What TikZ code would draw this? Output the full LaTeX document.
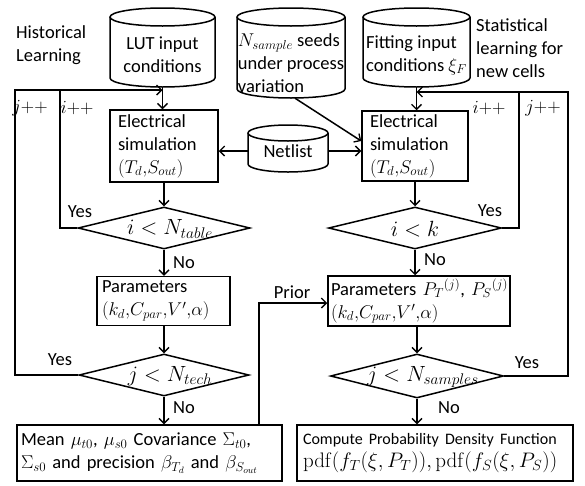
\RequirePackage{fix-cm}
\documentclass[tikz,border=0pt]{standalone}
\usepackage[no-math]{fontspec}
\setmainfont{Carlito}
\usetikzlibrary{arrows.meta,shapes.geometric}
\newcommand{\cylshape}[5]{%
  \pgfmathsetmacro\cxa{(#1+#2)/2}\pgfmathsetmacro\rxa{(#2-#1)/2}%
  \draw[ln] (\cxa,-#3-#5) ellipse [x radius=\rxa, y radius=#5];
  \draw[ln] (#1,-#3-#5) -- (#1,-#4+#5) arc[start angle=180,end angle=360,x radius=\rxa,y radius=#5] -- (#2,-#3-#5);
}
\begin{document}
\begin{tikzpicture}[x=1pt,y=1pt,
  every node/.style={font=\fontsize{18.5}{23}\selectfont},
  ln/.style={line width=1.5pt},
  box/.style={draw,line width=1.5pt,rectangle,align=left,inner ysep=0pt},
  dia/.style={draw,diamond,line width=1.5pt,inner sep=0pt},
  plain/.style={inner sep=0pt},
  dtext/.style={inner sep=0pt,font=\fontsize{22}{26}\selectfont},
  >={Straight Barb[length=5pt,width=10pt,line width=1.3pt]}]
\useasboundingbox (0,0) rectangle (585,-485);
% cylinders
\cylshape{110}{215}{8}{87}{9}
\cylshape{237}{345}{8}{98}{9}
\cylshape{363}{470}{8}{87}{9}
\cylshape{248}{328}{125}{172}{8}
\node[plain,align=center,minimum width=105pt,minimum height=64pt] (lut) at (162.5,-55) {LUT input\\conditions};
\node[plain,align=left,minimum width=108pt,minimum height=70pt] (nsamp) at (291,-63) {$N_{sample}$ seeds\\under process\\variation};
\node[plain,align=left,minimum width=107pt,minimum height=64pt] (fit) at (416.5,-55) {Fitting input\\conditions $\xi_F$};
\node[plain,minimum width=80pt,minimum height=40pt] (net) at (288,-151) {Netlist};
% side labels
\node[plain,anchor=west,align=left] (hist) at (16,-45) {Historical\\Learning};
\node[plain,anchor=west,align=left] (stat) at (476,-48) {Statistical\\learning for\\new cells};
% boxes
\node[box,minimum height=72pt,text width=92pt,inner xsep=8pt] (lelec) at (164,-146) {Electrical\\simulation\\$(T_d{,}S_{out})$};
\node[box,minimum height=49pt,text width=123pt,inner xsep=5pt] (lpar) at (163.5,-301) {Parameters\\$(k_d{,}C_{par}{,}V'{,}\alpha)$};
\node[box,minimum height=56pt,text width=257pt,inner xsep=4pt] (lbot) at (149.5,-453) {Mean $\mu_{t0}$, $\mu_{s0}$ Covariance $\Sigma_{t0}$,\\$\Sigma_{s0}$ and precision $\beta_{T_d}$ and $\beta_{S_{out}}$};
\node[box,minimum height=70pt,text width=90pt,inner xsep=8pt] (relec) at (415,-146) {Electrical\\simulation\\$(T_d{,}S_{out})$};
\node[box,minimum height=50pt,text width=176pt,inner xsep=3pt] (rpar) at (419,-301) {\mbox{Parameters $P_T{}^{(j)}$, $P_S{}^{(j)}$}\\$(k_d{,}C_{par}{,}V'{,}\alpha)$};
\node[box,minimum height=56pt,text width=264pt,inner xsep=6pt] (rbot) at (435,-453) {{\fontsize{16}{20}\selectfont Compute Probability Density Function}\\{\fontsize{21}{23}\selectfont$\mathrm{pdf}(f_T(\xi,P_T)),\mathrm{pdf}(f_S(\xi,P_S))$}};
% diamonds
\node[dia,minimum width=172pt,minimum height=42pt] (d1) at (164,-228) {};
\node[dtext] (d1t) at (170,-229) {$i<N_{table}$};
\node[dia,minimum width=170pt,minimum height=42pt] (d2) at (164,-375) {};
\node[dtext] (d2t) at (170,-376) {$j<N_{tech}$};
\node[dia,minimum width=173pt,minimum height=42pt] (d3) at (415,-228) {};
\node[dtext] (d3t) at (415,-229) {$i<k$};
\node[dia,minimum width=173pt,minimum height=44pt] (d4) at (417,-376) {};
\node[dtext] (d4t) at (423,-377) {$j<N_{samples}$};
% coordinates
\coordinate (lj) at (162.5,-90);
\coordinate (il) at (60,-90);
\coordinate (jl) at (15,-375);
\coordinate (rj) at (416.5,-92);
\coordinate (ir) at (519,-92);
\coordinate (jr) at (568,-376);
\coordinate (pr) at (259,-303);
% connectors
\draw[ln,->] (lut.south) -- (lut.south |- lelec.north);
\draw[ln,->] (fit.south) -- (fit.south |- relec.north);
\draw[ln,->] (net.west) -- (net.west -| lelec.east);
\draw[ln,->] (net.east) -- (net.east -| relec.west);
\draw[ln,->] ([xshift=4pt]nsamp.south) -- ([yshift=5pt]relec.west);
\draw[ln,->] (lelec.south) -- (d1.north);
\draw[ln,->] (d1.south) -- (d1.south |- lpar.north);
\draw[ln,->] (lpar.south -| d2.north) -- (d2.north);
\draw[ln,->] (d2.south) -- (d2.south |- lbot.north);
\draw[ln] (d1.west) -| (il);
\draw[ln,->] (d2.west) -- (jl) |- (lj);
\draw[ln,->] (relec.south) -- (d3.north);
\draw[ln,->] (d3.south) -- (d3.south |- rpar.north);
\draw[ln,->] (rpar.south -| d4.north) -- (d4.north);
\draw[ln,->] (d4.south) -- (d4.south |- rbot.north);
\draw[ln] (d3.east) -| (ir);
\draw[ln,->] (d4.east) -- (jr) |- (rj);
\draw[ln,->] (pr |- lbot.north) -- (pr) -- (pr -| rpar.west);
% labels
\node[plain] (y1) at (80,-212) {Yes};
\node[plain] (y2) at (60,-360) {Yes};
\node[plain] (y3) at (490,-211) {Yes};
\node[plain] (y4) at (527,-363) {Yes};
\node[plain] (n1) at (184,-263) {No};
\node[plain] (n2) at (184,-408) {No};
\node[plain] (n3) at (435,-260) {No};
\node[plain] (n4) at (449,-408) {No};
\node[plain] (pl) at (292,-292) {Prior};
\node[plain] (jp1) at (30,-108) {$j{+}{+}$};
\node[plain] (ip1) at (77,-108) {$i{+}{+}$};
\node[plain] (ip2) at (489,-108) {$i{+}{+}$};
\node[plain] (jp2) at (543,-108) {$j{+}{+}$};
\end{tikzpicture}
\end{document}
